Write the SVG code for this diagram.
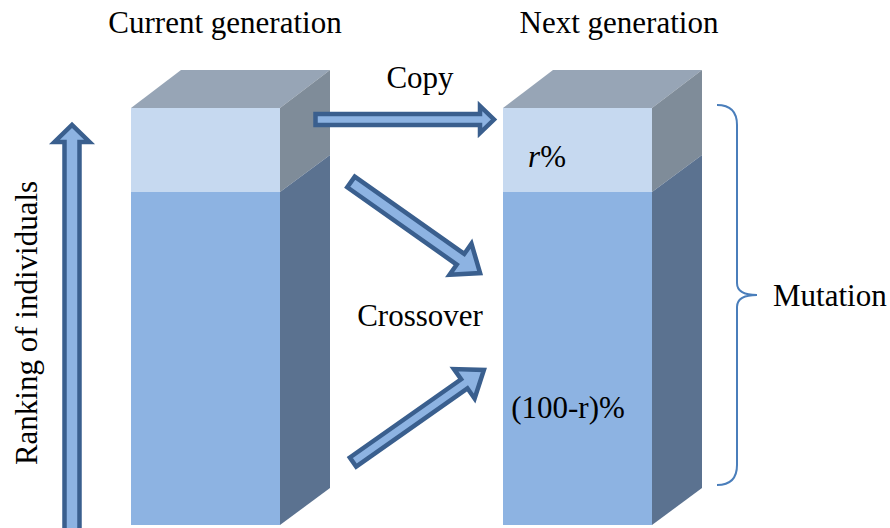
<svg xmlns="http://www.w3.org/2000/svg" width="890" height="528" viewBox="0 0 890 528">
<style>
.t{font-family:"Liberation Serif","Times New Roman","DejaVu Serif",serif;font-size:31px;fill:#000}
.top{fill:#97a5b6}
.sideU{fill:#7f8c99}
.sideL{fill:#5b7290}
.frontU{fill:#c6d9f0}
.frontL{fill:#8db3e2}
.arr{fill:#8db3e2;stroke:#3a5f8e;stroke-width:4.5;stroke-linejoin:miter}
</style>
<rect width="890" height="528" fill="#fff"/>
<g id="current">
<polygon class="top" points="131,108 181,70 330,70 280,108"/>
<polygon class="sideU" points="280,108 330,70 330,155 280,192"/>
<polygon class="sideL" points="280,192 330,155 330,488 280,525"/>
<rect class="frontU" x="131" y="108" width="149" height="84"/>
<rect class="frontL" x="131" y="192" width="149" height="333"/>
<text class="t" x="225" y="33" text-anchor="middle">Current generation</text>
</g>
<g id="next">
<polygon class="top" points="503,108 553,70 702,70 652,108"/>
<polygon class="sideU" points="652,108 702,70 702,155 652,192"/>
<polygon class="sideL" points="652,192 702,155 702,488 652,525"/>
<rect class="frontU" x="503" y="108" width="149" height="84"/>
<rect class="frontL" x="503" y="192" width="149" height="333"/>
<text class="t" x="619" y="33" text-anchor="middle">Next generation</text>
<text class="t" x="547" y="167" text-anchor="middle"><tspan font-style="italic">r</tspan>%</text>
<text class="t" x="568" y="418" text-anchor="middle">(100-r)%</text>
</g>
<g id="ranking">
<polygon class="arr" points="64.5,540 64.5,142 54.5,142 72,125 89.5,142 79.5,142 79.5,540"/>
<text class="t" transform="translate(37,323) rotate(-90)" text-anchor="middle">Ranking of individuals</text>
</g>
<g id="mutation">
<path d="M717,105 Q737,105 737,125 L737,283 Q737,295 757,295 Q737,295 737,307 L737,465 Q737,485 717,485" fill="none" stroke="#4a7ebb" stroke-width="2"/>
<text class="t" x="773" y="306">Mutation</text>
</g>
<g id="connectors">
<polygon class="arr" points="315.5,114 480,114 480,106 494,119.5 480,133 480,125 315.5,125"/>
<text class="t" x="420" y="88" text-anchor="middle">Copy</text>
<polygon class="arr" transform="translate(351,182) rotate(35.2)" points="0,-6.5 134,-6.5 134,-19 158,0 134,19 134,6.5 0,6.5"/>
<polygon class="arr" transform="translate(353,462) rotate(-35.1)" points="0,-5.5 136,-5.5 136,-18 160,0 136,18 136,5.5 0,5.5"/>
<text class="t" x="420" y="326" text-anchor="middle">Crossover</text>
</g>
</svg>
